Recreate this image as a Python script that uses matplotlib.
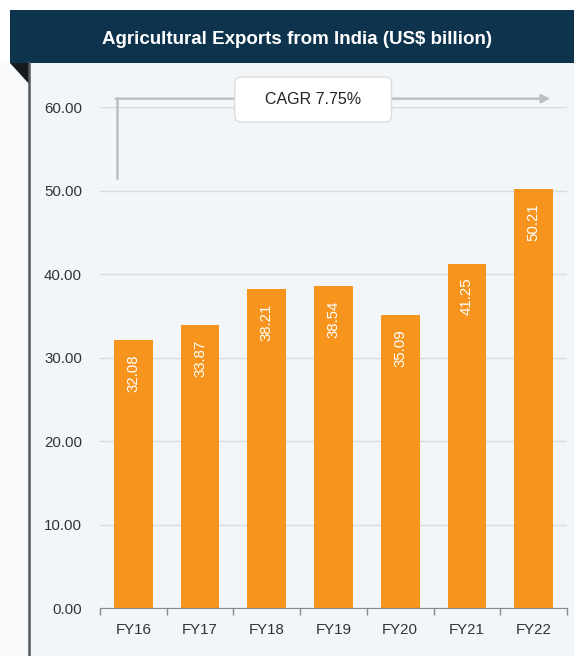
import numpy as np
import matplotlib.pyplot as plt
from matplotlib.patches import Rectangle, Polygon, FancyBboxPatch

# Data
years = ['FY16', 'FY17', 'FY18', 'FY19', 'FY20', 'FY21', 'FY22']
exports = [32.08, 33.87, 38.21, 38.54, 35.09, 41.25, 50.21]
y_ticks = [0, 10, 20, 30, 40, 50, 60]
title = 'Agricultural Exports from India (US$ billion)'
cagr_text = 'CAGR 7.75%'

plt.rcParams['font.family'] = ['Liberation Sans', 'DejaVu Sans']

W, H = 574, 656
fig = plt.figure(figsize=(W / 100, H / 100), dpi=100)
fig.patch.set_facecolor('white')

# Background frame drawn in pixel coordinates
bg = fig.add_axes([0, 0, 1, 1], zorder=0)
bg.set_xlim(0, W)
bg.set_ylim(H, 0)
bg.axis('off')
bg.add_patch(Rectangle((29, 63), W - 29, H - 63, color='#f3f6f9', lw=0))
bg.add_patch(Rectangle((0, 63), 29, H - 63, color='#f8f9fb', lw=0))
bg.add_patch(Rectangle((10, 9.5), W - 10, 53.5, color='#0d344c', lw=0))
bg.add_patch(Polygon([[10, 63], [30, 63], [30, 85]], closed=True, color='#151a1e', lw=0))
bg.plot([29, 29], [63, H], color='#555a5e', lw=1.8)
bg.text(297, 39, title, color='white', fontsize=13.5, fontweight='bold',
        ha='center', va='center')

# Main chart
ax = fig.add_axes([100 / W, 1 - 608 / H, 467 / W, 501 / H], zorder=1)
ax.set_facecolor('none')
x = np.arange(len(years))
ax.bar(x, exports, width=0.58, color='#f7941d', zorder=2)

for i, v in enumerate(exports):
    ax.text(i, v - 1.7, f'{v:.2f}', rotation=90, ha='center', va='top',
            color='white', fontsize=10.8, zorder=3)

ax.set_xlim(-0.5, len(years) - 0.5)
ax.set_ylim(0, 60)
ax.set_yticks(y_ticks)
ax.set_yticklabels([f'{t:.2f}' for t in y_ticks])
ax.set_xticks(x)
ax.set_xticklabels(years)
ax.set_xticks(np.arange(-0.5, len(years)), minor=True)
ax.tick_params(axis='y', length=0, pad=13, labelsize=10.8, labelcolor='#333333')
ax.tick_params(axis='x', which='major', length=0, pad=11, labelsize=10.8,
               labelcolor='#333333')
ax.tick_params(axis='x', which='minor', length=5, width=1, color='#888888')
ax.grid(axis='y', color='#d8dbde', lw=1, zorder=0)
for s in ['top', 'right', 'left']:
    ax.spines[s].set_visible(False)
ax.spines['bottom'].set_color('#888888')
ax.spines['bottom'].set_zorder(3)

# CAGR arrow
arrow_col = '#bcc0c4'
ax.plot([-0.25, -0.25], [51.5, 61.0], color=arrow_col, lw=1.8, clip_on=False, zorder=2)
ax.annotate('', xy=(6.25, 61.0), xytext=(-0.265, 61.0), annotation_clip=False,
            arrowprops=dict(arrowstyle='-|>,head_length=0.5,head_width=0.25',
                            color=arrow_col, lw=1.8, shrinkA=0, shrinkB=0), zorder=2)
box = FancyBboxPatch((1.52, 58.2), 2.35, 5.4, boxstyle='round,pad=0,rounding_size=0.1',
                     mutation_aspect=8, facecolor='white', edgecolor='#dcdcdc',
                     lw=1, clip_on=False, zorder=4)
ax.add_patch(box)
ax.text(2.69, 60.9, cagr_text, ha='center', va='center', fontsize=11.5,
        color='#222222', zorder=5)

fig.savefig('out.png', dpi=100, facecolor=fig.get_facecolor())
